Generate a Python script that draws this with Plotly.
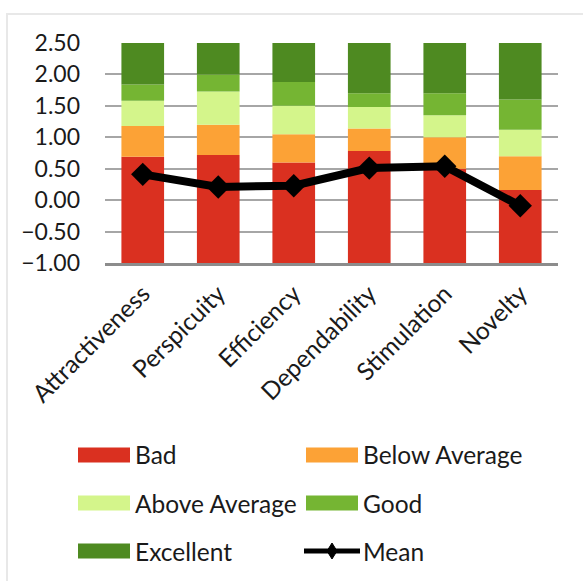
import plotly.graph_objects as go

categories = ["Attractiveness", "Perspicuity", "Efficiency", "Dependability", "Stimulation", "Novelty"]

# Benchmark boundaries per scale (upper limit of each band)
bad_upper = [0.69, 0.72, 0.60, 0.78, 0.50, 0.16]
below_upper = [1.18, 1.20, 1.05, 1.14, 1.00, 0.70]
above_upper = [1.58, 1.73, 1.50, 1.48, 1.35, 1.12]
good_upper = [1.84, 2.00, 1.88, 1.70, 1.70, 1.60]
scale_min = -1.0
scale_max = 2.5

mean_values = [0.41, 0.21, 0.23, 0.51, 0.54, -0.09]

band_names = ["Bad", "Below Average", "Above Average", "Good", "Excellent"]
band_colors = ["#DA3020", "#FCA236", "#D4F58B", "#75B533", "#4E8A21"]

lowers = [[scale_min] * 6, bad_upper, below_upper, above_upper, good_upper]
uppers = [bad_upper, below_upper, above_upper, good_upper, [scale_max] * 6]

FONT = "Lato"
TXT = "#1a1a1a"
FS_TICK = 23
FS_TEXT = 24.5

fig = go.Figure()
for name, color, lo, hi in zip(band_names, band_colors, lowers, uppers):
    fig.add_trace(go.Bar(
        x=categories,
        y=[h - l for h, l in zip(hi, lo)],
        base=lo,
        name=name,
        marker=dict(color=color, line=dict(width=0)),
        showlegend=False,
    ))

fig.add_trace(go.Scatter(
    x=categories, y=mean_values, name="Mean", mode="lines+markers",
    line=dict(color="black", width=8),
    marker=dict(symbol="diamond", size=18, color="black"),
    showlegend=False,
))

# plot area in pixels
L, R, T, B = 105, 558, 43, 263
W, H = R - L, B - T


def px(x):
    return (x - L) / W


def py(y):
    return (B - y) / H


shapes = []
annotations = []

# outer chart border
shapes.append(dict(type="rect", xref="paper", yref="paper",
                   x0=px(7), x1=px(600), y0=py(14), y1=py(600),
                   line=dict(color="#E8E8E8", width=2), layer="below"))

# legend: two columns, three rows
legend_items = band_names + ["Mean"]
col_x = [78, 306]
row_y = [455, 503, 551]
for i, name in enumerate(legend_items):
    cx = col_x[i % 2]
    cy = row_y[i // 2]
    if name == "Mean":
        shapes.append(dict(type="line", xref="paper", yref="paper",
                           x0=px(cx - 2), x1=px(cx + 54), y0=py(cy), y1=py(cy),
                           line=dict(color="black", width=5)))
        dx, dy = 5, 8
        mx = cx + 26
        path = (f"M {px(mx)},{py(cy - dy)} L {px(mx + dx)},{py(cy)} "
                f"L {px(mx)},{py(cy + dy)} L {px(mx - dx)},{py(cy)} Z")
        shapes.append(dict(type="path", xref="paper", yref="paper", path=path,
                           fillcolor="black", line=dict(color="black", width=1)))
    else:
        shapes.append(dict(type="rect", xref="paper", yref="paper",
                           x0=px(cx), x1=px(cx + 52), y0=py(cy - 7.5), y1=py(cy + 7.5),
                           fillcolor=band_colors[i], line=dict(width=0)))
    annotations.append(dict(text=name, xref="paper", yref="paper",
                            x=px(cx + 55), y=py(cy), xanchor="left", yanchor="middle",
                            showarrow=False, font=dict(family=FONT, size=FS_TEXT, color=TXT)))

fig.update_layout(
    width=583, height=581,
    margin=dict(l=L, r=583 - R, t=T, b=581 - B, autoexpand=False),
    paper_bgcolor="white", plot_bgcolor="white",
    barmode="overlay", bargap=0.435,
    shapes=shapes, annotations=annotations,
    showlegend=False,
    font=dict(family=FONT, color=TXT),
)
fig.update_yaxes(
    range=[scale_min, scale_max], tickvals=[-1, -0.5, 0, 0.5, 1, 1.5, 2, 2.5],
    tickformat=".2f", showgrid=True, gridcolor="#A6A6A6", gridwidth=1.5,
    zeroline=False, showline=False, ticks="", ticklabelstandoff=24,
    tickfont=dict(family=FONT, size=FS_TICK, color=TXT),
)
fig.update_xaxes(
    showline=True, linecolor="#8C8C8C", linewidth=2.5, ticks="",
    tickangle=-45, tickfont=dict(family=FONT, size=FS_TEXT, color=TXT),
    showgrid=False, ticklabelstandoff=4,
)

fig.write_html("out.html")
